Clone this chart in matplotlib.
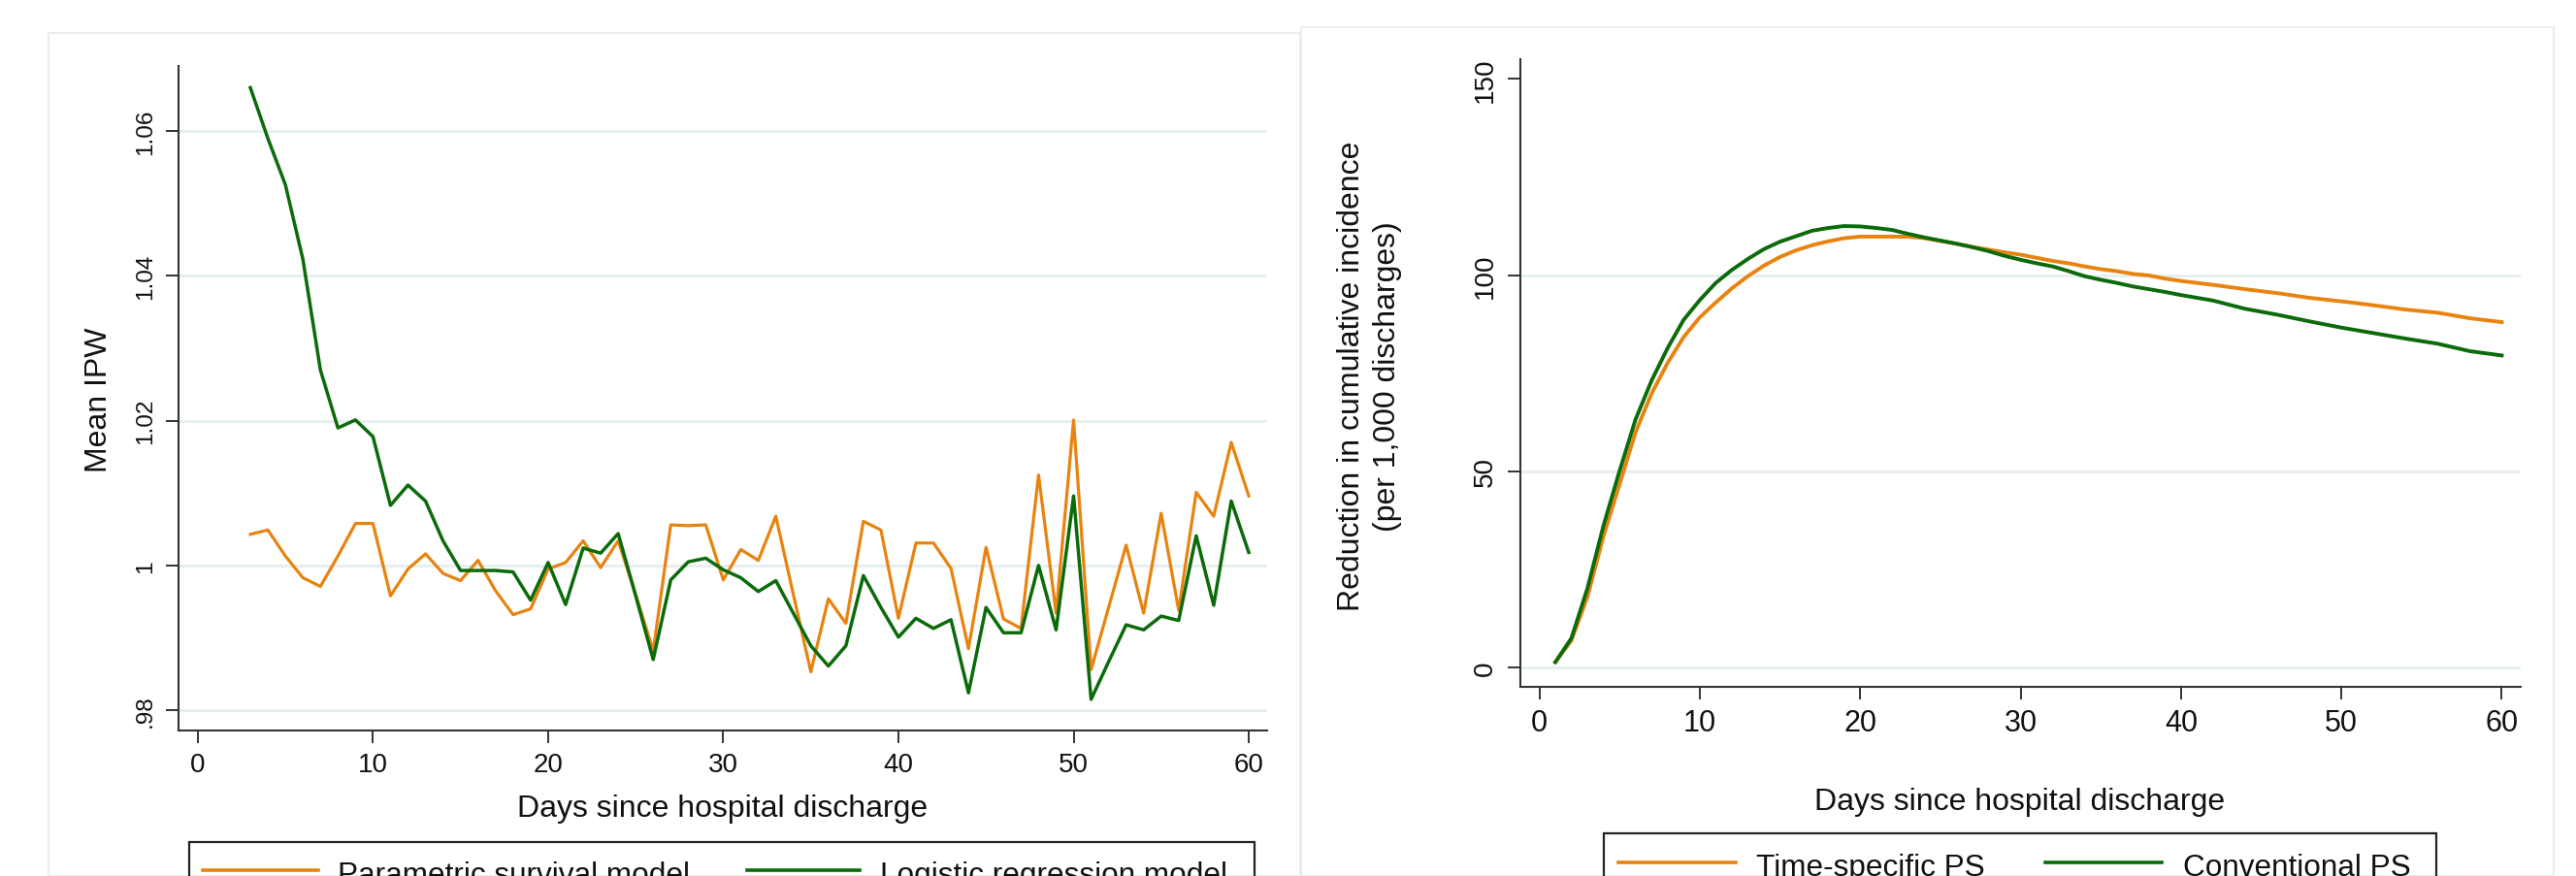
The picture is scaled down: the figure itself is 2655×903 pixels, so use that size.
import matplotlib
matplotlib.use("Agg")
import matplotlib.pyplot as plt
from matplotlib.patches import Rectangle
from matplotlib.lines import Line2D

plt.rcParams['font.family'] = ['Liberation Sans', 'DejaVu Sans']

ORANGE = '#e8830f'
GREEN = '#0b6b0b'
GRID = '#e6eff1'
FRAME = '#e8eef0'
INK = '#111111'

# left panel: mean IPW by day
ipw_days = list(range(3, 61))
ipw_parametric = [1.0043, 1.0049, 1.0013, 0.9983, 0.9971, 1.0013, 1.0058, 1.0058, 0.9958, 0.9995,
                  1.0016, 0.9989, 0.9979, 1.0007, 0.9965, 0.9932, 0.9940, 0.9995, 1.0004, 1.0034,
                  0.9997, 1.0034, 0.9960, 0.9882, 1.0056, 1.0055, 1.0056, 0.9980, 1.0022, 1.0007,
                  1.0068, 0.9960, 0.9853, 0.9954, 0.9920, 1.0061, 1.0049, 0.9927, 1.0031, 1.0031,
                  0.9996, 0.9885, 1.0025, 0.9926, 0.9913, 1.0125, 0.9934, 1.0201, 0.9856, 0.9942,
                  1.0028, 0.9934, 1.0072, 0.9938, 1.0101, 1.0068, 1.0170, 1.0096]
ipw_logistic = [1.0660, 1.0590, 1.0526, 1.0423, 1.0270, 1.0190, 1.0201, 1.0178, 1.0083, 1.0111,
                1.0089, 1.0034, 0.9993, 0.9993, 0.9993, 0.9991, 0.9952, 1.0004, 0.9946, 1.0024,
                1.0017, 1.0044, 0.9958, 0.9870, 0.9980, 1.0005, 1.0010, 0.9994, 0.9983, 0.9964,
                0.9979, 0.9934, 0.9889, 0.9861, 0.9889, 0.9986, 0.9942, 0.9901, 0.9927, 0.9913,
                0.9925, 0.9824, 0.9942, 0.9907, 0.9907, 1.0000, 0.9911, 1.0096, 0.9815, 0.9867,
                0.9918, 0.9911, 0.9930, 0.9924, 1.0041, 0.9945, 1.0089, 1.0018]
ipw_ticks = [0.98, 1.0, 1.02, 1.04, 1.06]
ipw_tick_labels = ['.98', '1', '1.02', '1.04', '1.06']

# right panel: reduction in cumulative incidence
ci_days = list(range(1, 40)) + list(range(40, 61, 2))
ci_time_specific = [1.3, 6.8, 17.9, 33.4, 46.6, 59.9, 69.8, 77.6, 84.2, 89.2,
                    93.0, 96.6, 99.7, 102.4, 104.6, 106.3, 107.6, 108.6, 109.4, 109.8,
                    109.8, 109.8, 109.8, 109.4, 108.7, 108.0, 107.2, 106.5, 105.8, 105.2,
                    104.4, 103.6, 103.0, 102.2, 101.5, 101.0, 100.3, 99.9, 99.1,
                    98.5, 97.5, 96.4, 95.4, 94.2, 93.3, 92.3, 91.2, 90.4, 89.0, 88.0]
ci_conventional = [1.3, 7.4, 20.1, 36.1, 50.0, 63.2, 73.1, 81.4, 88.6, 93.6,
                   98.0, 101.3, 104.1, 106.6, 108.5, 109.9, 111.3, 112.0, 112.5, 112.4,
                   112.0, 111.5, 110.5, 109.6, 108.8, 108.0, 107.1, 106.1, 104.9, 103.9,
                   103.0, 102.2, 101.0, 99.7, 98.8, 98.0, 97.1, 96.4, 95.7,
                   94.9, 93.5, 91.4, 89.9, 88.2, 86.6, 85.2, 83.8, 82.5, 80.6, 79.5]
ci_ticks = [0, 50, 100, 150]
ci_grid = [0, 50, 100]

day_ticks = [0, 10, 20, 30, 40, 50, 60]

W, H = 2655, 904
fig = plt.figure(figsize=(W / 100, H / 100), dpi=100)


def px_box(x0, y0, x1, y1):
    # pixel box (top-left origin) -> figure fraction rect
    return [x0 / W, (H - y1) / H, (x1 - x0) / W, (y1 - y0) / H]


def style_axes(ax, tick_size):
    for s in ['top', 'right']:
        ax.spines[s].set_visible(False)
    for s in ['left', 'bottom']:
        ax.spines[s].set_linewidth(1.5)
        ax.spines[s].set_color('#333333')
    ax.tick_params(direction='out', length=9.5, width=1.4, color='#333333',
                   labelsize=tick_size, labelcolor=INK, pad=6)
    ax.tick_params(axis='y', pad=7)
    ax.set_xticks(day_ticks)
    ax.set_xticklabels([str(t) for t in day_ticks])


# frames around each graph region
fig.add_artist(Rectangle((50 / W, 0), (1340 - 50) / W, (H - 35) / H, transform=fig.transFigure,
                         fill=False, edgecolor=FRAME, lw=1.5))
fig.add_artist(Rectangle((1341 / W, 0), (2632 - 1341) / W, (H - 29) / H, transform=fig.transFigure,
                         fill=False, edgecolor=FRAME, lw=1.5))

# ---- left panel
ax1 = fig.add_axes(px_box(184, 69, 1306, 754))
for g in ipw_ticks:
    ax1.axhline(g, color=GRID, lw=2.2, zorder=0)
ax1.plot(ipw_days, ipw_parametric, color=ORANGE, lw=2.3)
ax1.plot(ipw_days, ipw_logistic, color=GREEN, lw=2.5)
ax1.set_xlim(-1.1, 61.05)
ax1.set_ylim(0.9772, 1.069)
style_axes(ax1, 20)
ax1.set_yticks(ipw_ticks)
ax1.set_yticklabels(ipw_tick_labels, rotation=90, va='center', fontsize=17.5)

fig.text(102 / W, 1 - 412 / H, 'Mean IPW', rotation=90, ha='center', va='center',
         fontsize=23, color=INK)
fig.text(745 / W, 1 - 834 / H, 'Days since hospital discharge', ha='center', va='center',
         fontsize=23, color=INK)

# ---- right panel
ax2 = fig.add_axes(px_box(1567, 62, 2598, 709))
for g in ci_grid:
    ax2.axhline(g, color=GRID, lw=2.2, zorder=0)
ax2.plot(ci_days, ci_time_specific, color=ORANGE, lw=2.8)
ax2.plot(ci_days, ci_conventional, color=GREEN, lw=2.8)
ax2.set_xlim(-1.18, 61.18)
ax2.set_ylim(-5.0, 155.05)
style_axes(ax2, 22)
ax2.set_yticks(ci_ticks)
ax2.set_yticklabels([str(t) for t in ci_ticks], rotation=90, va='center', fontsize=20)

fig.text(1393 / W, 1 - 388 / H, 'Reduction in cumulative incidence', rotation=90,
         ha='center', va='center', fontsize=23, color=INK)
fig.text(1430 / W, 1 - 388 / H, '(per 1,000 discharges)', rotation=90,
         ha='center', va='center', fontsize=23, color=INK)
fig.text(2082 / W, 1 - 827 / H, 'Days since hospital discharge', ha='center', va='center',
         fontsize=23, color=INK)


# ---- legends (cut off by the bottom edge, as in the source)
def legend_box(x0, x1, top, line_y, entries):
    fig.add_artist(Rectangle((x0 / W, -0.05), (x1 - x0) / W, (H - top) / H + 0.05,
                             transform=fig.transFigure, fill=False, edgecolor='#222222', lw=1.6))
    for hx0, hx1, tx, label, col in entries:
        fig.add_artist(Line2D([hx0 / W, hx1 / W], [1 - line_y / H] * 2, transform=fig.transFigure,
                              color=col, lw=2.6))
        fig.text(tx / W, 1 - (line_y + 13) / H, label, ha='left', va='baseline',
                 fontsize=22.7, color=INK)


legend_box(195, 1293, 869, 898, [
    (209, 328, 348, 'Parametric survival model', ORANGE),
    (770, 886, 907, 'Logistic regression model', GREEN),
])
legend_box(1653, 2511, 860, 890, [
    (1668, 1789, 1810, 'Time-specific PS', ORANGE),
    (2108, 2228, 2250, 'Conventional PS', GREEN),
])

fig.savefig('out.png', dpi=100, facecolor='white')
